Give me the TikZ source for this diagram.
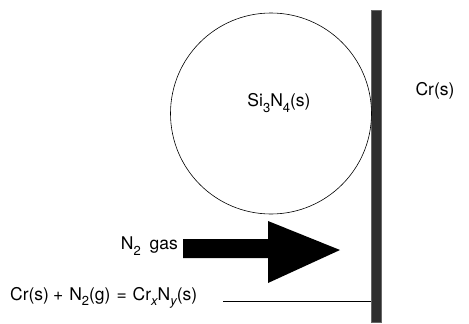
\documentclass[tikz,border=0pt]{standalone}
\usepackage{fontspec}
\setmainfont{TeX Gyre Heros}
\newcommand{\lowsub}[1]{\raisebox{-0.32em}{\fontsize{13}{13}\selectfont #1}}
\begin{document}
\begin{tikzpicture}[x=1pt,y=-1pt,
  lbl/.style={inner sep=0pt, font=\fontsize{17.5}{20}\selectfont},
  wall/.style={fill=black!82, draw=black!60, line width=0.4pt},
  ball/.style={circle, draw, line width=0.6pt, minimum size=201pt, inner sep=0pt},
  link/.style={line width=0.6pt}]
\useasboundingbox (0,0) rectangle (469,324);
\node[wall, minimum width=10pt, minimum height=312pt, inner sep=0pt, anchor=north west] (bar) at (371,10) {};
\node[ball] (sphere) at (271,113.5) {};
\node[lbl] (si) at (279,103) {Si\lowsub{3}N\lowsub{4}(s)};
\node[lbl] (cr) at (435,91) {Cr(s)};
\node[lbl, anchor=east] (gas) at (178,246) {N\lowsub{2}\hspace{4pt} gas};
\fill (183,239) -- (268,239) -- (268,221) -- (340,250) -- (268,283) -- (268,258) -- (183,258) -- cycle;
\node[lbl, anchor=west] (eq) at (10,298) {Cr(s)\hspace{4pt}+\hspace{6pt}N\lowsub{2}(g)\hspace{6pt}=\hspace{6pt}Cr\lowsub{\itshape x}N\lowsub{\itshape y}(s)};
\coordinate (eqend) at (223,301);
\draw[link] (eqend) -- (eqend -| bar.west);
\end{tikzpicture}
\end{document}
